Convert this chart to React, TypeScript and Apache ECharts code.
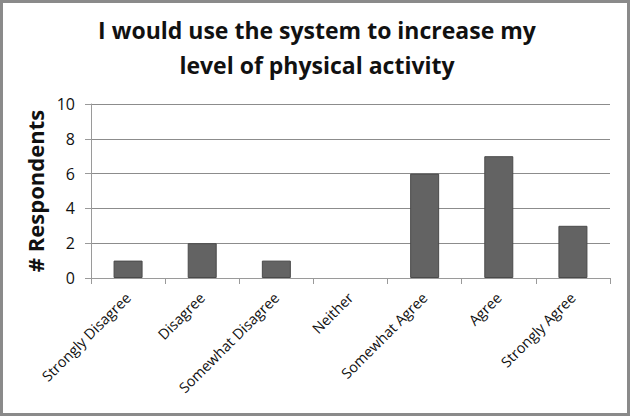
import React, { useEffect, useRef } from "react";
import * as echarts from "echarts";

const categories = [
  "Strongly Disagree",
  "Disagree",
  "Somewhat Disagree",
  "Neither",
  "Somewhat Agree",
  "Agree",
  "Strongly Agree",
];
const respondents = [1, 2, 1, 0, 6, 7, 3];
const titleLines = ["I would use the system to increase my", "level of physical activity"];
const yAxisName = "# Respondents";

const FONT = "'Open Sans', 'Noto Sans', sans-serif";

export default function App() {
  const ref = useRef<HTMLDivElement>(null);
  useEffect(() => {
    document.body.style.margin = "0";
    const chart = echarts.init(ref.current!, null, { renderer: "svg" });
    chart.setOption({
      animation: false,
      backgroundColor: "#ffffff",
      title: {
        text: titleLines.join("\n"),
        left: 312,
        textAlign: "center",
        top: 7,
        textStyle: {
          fontFamily: FONT,
          fontWeight: "bold",
          fontSize: 23,
          lineHeight: 35,
          color: "#111",
        },
      },
      graphic: [
        {
          type: "rect",
          shape: { x: 1.5, y: 1.5, width: 627, height: 413 },
          style: { fill: "none", stroke: "#8a8a8a", lineWidth: 3 },
          silent: true,
        },
      ],
      grid: { left: 91, top: 104, width: 519, height: 174, containLabel: false },
      xAxis: {
        type: "category",
        data: categories,
        axisLine: { lineStyle: { color: "#9a9a9a", width: 1 } },
        axisTick: { show: true, length: 6, lineStyle: { color: "#9a9a9a" } },
        axisLabel: {
          rotate: 45,
          interval: 0,
          margin: 17,
          fontFamily: FONT,
          fontSize: 14.5,
          color: "#111",
        },
      },
      yAxis: {
        type: "value",
        min: 0,
        max: 10,
        interval: 2,
        name: yAxisName,
        nameLocation: "middle",
        nameGap: 39,
        nameTextStyle: {
          fontFamily: FONT,
          fontWeight: "bold",
          fontSize: 22,
          color: "#111",
        },
        axisLine: { show: true, lineStyle: { color: "#9a9a9a" } },
        axisTick: { show: true, length: 6, lineStyle: { color: "#9a9a9a" } },
        axisLabel: { fontFamily: FONT, fontSize: 16, color: "#111", margin: 16 },
        splitLine: { lineStyle: { color: "#8c8c8c", width: 1 } },
      },
      series: [
        {
          type: "bar",
          data: respondents.map((v) => ({
            value: v,
            itemStyle: v === 0 ? { borderWidth: 0 } : undefined,
          })),
          barWidth: 29,
          itemStyle: { color: "#636363", borderColor: "#4a4a4a", borderWidth: 1 },
        },
      ],
    });
    return () => chart.dispose();
  }, []);
  return <div ref={ref} style={{ width: 630, height: 416 }} />;
}
